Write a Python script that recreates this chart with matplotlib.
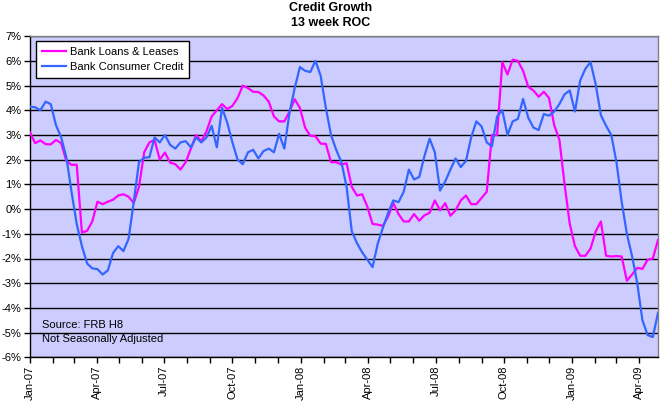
import matplotlib
matplotlib.use("Agg")
import matplotlib.pyplot as plt
import matplotlib.dates as mdates
import pandas as pd

plt.rcParams['font.family'] = ['Liberation Sans', 'DejaVu Sans']

title = "Credit Growth\n13 week ROC"
series_names = ["Bank Loans & Leases", "Bank Consumer Credit"]

loans = [3.1, 2.67, 2.78, 2.63, 2.62, 2.8, 2.67, 1.95, 1.79, 1.8, -0.95, -0.88, -0.5, 0.3, 0.2, 0.3, 0.38, 0.55, 0.6, 0.5, 0.25, 0.9, 2.3, 2.7, 2.8,
         2.0, 2.29, 1.88, 1.82, 1.6, 1.9, 2.45, 3.0, 2.75, 3.15, 3.75, 4.0, 4.25, 4.05, 4.18, 4.5, 5.0, 4.9, 4.75, 4.74, 4.6, 4.35, 3.75, 3.55,
         3.55, 3.95, 4.45, 4.1, 3.3, 2.97, 2.95, 2.65, 2.64, 1.9, 1.9, 1.8, 1.86, 0.9, 0.55, 0.6, 0.1, -0.6, -0.63, -0.68, -0.3, 0.25, -0.2, -0.5, -0.5,
         -0.2, -0.47, -0.25, -0.15, 0.35, -0.05, 0.24, -0.27, -0.05, 0.35, 0.55, 0.2, 0.2, 0.45, 0.7, 3.0, 3.0, 5.95, 5.45, 6.05, 6.0, 5.6, 4.95, 4.8,
         4.55, 4.75, 4.5, 3.4, 2.81, 1.0, -0.6, -1.5, -1.89, -1.89, -1.6, -0.9, -0.5, -1.89, -1.92, -1.9, -1.92, -2.9, -2.65, -2.38, -2.42, -2.05, -2.0, -1.25]

consumer = [4.15, 4.12, 4.0, 4.35, 4.25, 3.4, 2.91, 2.1, 0.7, -0.6, -1.5, -2.2, -2.4, -2.43, -2.65, -2.48, -1.78, -1.5, -1.7, -1.2, 0.3, 1.9, 2.08, 2.1, 2.9,
            2.7, 3.0, 2.6, 2.45, 2.7, 2.75, 2.5, 2.9, 2.7, 2.9, 3.37, 2.5, 4.1, 3.5, 2.7, 2.0, 1.82, 2.3, 2.4, 2.05, 2.35, 2.45, 2.3, 3.05,
            2.45, 3.9, 4.9, 5.75, 5.6, 5.55, 6.0, 5.4, 4.1, 3.0, 2.4, 1.9, 0.9, -0.9, -1.38, -1.75, -2.05, -2.35, -1.4, -0.75, -0.15, 0.35, 0.28, 0.7, 1.6,
            1.2, 1.3, 2.15, 2.85, 2.3, 0.75, 1.12, 1.6, 2.05, 1.7, 1.95, 2.9, 3.55, 3.35, 2.7, 2.54, 3.75, 4.0, 3.0, 3.55, 3.65, 4.46, 3.7, 3.3,
            3.2, 3.85, 3.78, 3.95, 4.25, 4.65, 4.8, 3.95, 5.2, 5.68, 5.95, 5.05, 3.8, 3.37, 3.0, 1.9, 0.3, -1.0, -1.9, -3.0, -4.5, -5.1, -5.18, -4.2]

dates = pd.date_range("2007-01-01", periods=len(loans), freq="7D")
y_ticks = list(range(-6, 8))
y_labels = [f"{v}%" for v in y_ticks]

fig = plt.figure(figsize=(6.61, 4.01), dpi=100)
ax = fig.add_axes([30/661, 1-357.3/401, 628/661, (357.3-36.2)/401])
ax.set_facecolor("#CCCCFF")

ax.plot(dates, loans, color="#FF00FF", lw=1.6, label=series_names[0], zorder=3)
ax.plot(dates, consumer, color="#3366FF", lw=1.6, label=series_names[1], zorder=3)

ax.set_ylim(-6, 7)
ax.set_yticks(y_ticks)
ax.set_yticklabels(y_labels)
ax.set_xlim(pd.Timestamp("2007-01-01"), dates[-1])
ax.xaxis.set_major_locator(mdates.MonthLocator(bymonth=[1, 4, 7, 10]))
ax.xaxis.set_minor_locator(mdates.MonthLocator())
ax.xaxis.set_major_formatter(mdates.DateFormatter("%b-%y"))
for lab in ax.get_xticklabels():
    lab.set_rotation(90)
ax.tick_params(axis="x", which="both", length=4, width=1, direction="out", labelsize=8, pad=2)
ax.tick_params(axis="y", length=4, width=1, direction="out", labelsize=8, pad=2)
ax.grid(axis="y", color="black", lw=1)
ax.set_axisbelow(True)
for s in ["left", "bottom"]:
    ax.spines[s].set_color("black")
    ax.spines[s].set_linewidth(1)
for s in ["top", "right"]:
    ax.spines[s].set_color("#808080")
    ax.spines[s].set_linewidth(1)

leg = ax.legend(loc="upper left", bbox_to_anchor=(6/628, 1-5/321), fontsize=8, frameon=True,
                fancybox=False, edgecolor="black", framealpha=1, handlelength=2.2,
                handletextpad=0.4, borderpad=0.5, labelspacing=0.5, borderaxespad=0)
leg.get_frame().set_linewidth(1)

ax.text(12/628, (357.3-325)/321, "Source: FRB H8", transform=ax.transAxes, fontsize=8, va="center", ha="left")
ax.text(12/628, (357.3-339)/321, "Not Seasonally Adjusted", transform=ax.transAxes, fontsize=8, va="center", ha="left")

fig.text(0.5, 1-8/401, "Credit Growth", ha="center", va="center", fontsize=9, fontweight="bold")
fig.text(0.5, 1-23/401, "13 week ROC", ha="center", va="center", fontsize=9, fontweight="bold")

fig.savefig("out.png", dpi=100, facecolor="white")
